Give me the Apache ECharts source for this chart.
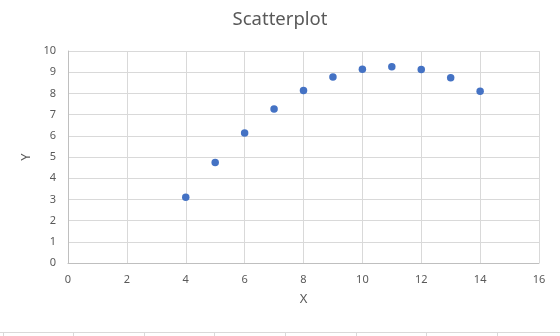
<!DOCTYPE html>
<html><head><meta charset="utf-8">
<script src="https://cdn.jsdelivr.net/npm/echarts@6/dist/echarts.min.js"></script>
<style>html,body{margin:0;padding:0;background:#fff}#c{width:560px;height:336px}</style>
</head><body><div id="c"></div>
<script>
const xValues = [4, 5, 6, 7, 8, 9, 10, 11, 12, 13, 14];
const yValues = [3.10, 4.74, 6.13, 7.26, 8.14, 8.77, 9.14, 9.26, 9.13, 8.74, 8.10];
const titleText = 'Scatterplot';
const xName = 'X';
const yName = 'Y';

const chart = echarts.init(document.getElementById('c'), null, {renderer: 'canvas'});
const font = '"Noto Sans", "Open Sans", sans-serif';
const cellX = [3, 73, 144, 214, 285, 356, 426, 497];
const graphics = [{type: 'line', shape: {x1: 0, y1: 332.5, x2: 560, y2: 332.5}, style: {stroke: '#d9d9d9', lineWidth: 1}}];
cellX.forEach(x => graphics.push({type: 'line', shape: {x1: x + 0.5, y1: 332, x2: x + 0.5, y2: 336}, style: {stroke: '#d9d9d9', lineWidth: 1}}));

chart.setOption({
  animation: false,
  title: {text: titleText, left: 'center', top: 5, textStyle: {fontFamily: font, fontSize: 18.5, fontWeight: 'normal', color: '#595959'}},
  grid: {left: 68, right: 21, top: 51, bottom: 73},
  xAxis: {
    type: 'value', min: 0, max: 16, interval: 2,
    name: xName, nameLocation: 'middle', nameGap: 30,
    nameTextStyle: {fontFamily: font, fontSize: 13, color: '#595959'},
    axisLine: {show: true, lineStyle: {color: '#bfbfbf'}},
    axisTick: {show: false},
    axisLabel: {fontFamily: font, fontSize: 11, color: '#595959', margin: 11},
    splitLine: {show: true, lineStyle: {color: '#d9d9d9'}}
  },
  yAxis: {
    type: 'value', min: 0, max: 10, interval: 1,
    name: yName, nameLocation: 'middle', nameGap: 32,
    nameTextStyle: {fontFamily: font, fontSize: 13, color: '#595959'},
    axisLine: {show: true, lineStyle: {color: '#bfbfbf'}},
    axisTick: {show: false},
    axisLabel: {fontFamily: font, fontSize: 11, color: '#595959', margin: 12},
    splitLine: {show: true, lineStyle: {color: '#d9d9d9'}}
  },
  graphic: graphics,
  series: [{
    type: 'scatter',
    data: xValues.map((x, i) => [x, yValues[i]]),
    symbolSize: 7.5,
    itemStyle: {color: '#4472C4', opacity: 1}
  }]
});
</script></body></html>
